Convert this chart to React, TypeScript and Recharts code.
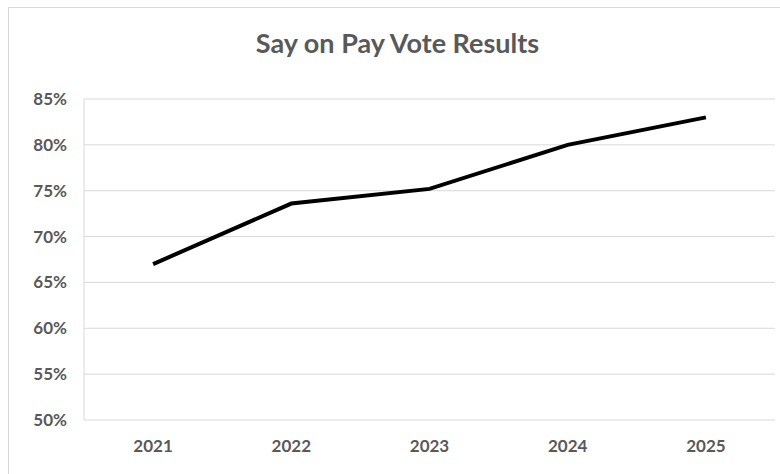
import React from "react";
import { LineChart, Line, XAxis, YAxis, CartesianGrid } from "recharts";

const years = ["2021", "2022", "2023", "2024", "2025"];
const votePct = [0.67, 0.736, 0.752, 0.8, 0.83];
const yTicks = [0.5, 0.55, 0.6, 0.65, 0.7, 0.75, 0.8, 0.85];

const FONT = "Lato, 'Open Sans', sans-serif";
const GRAY = "#595959";

const chartData = years.map((year, i) => ({ year, pct: votePct[i] }));

const pctLabel = (v: number) => `${Math.round(v * 100)}%`;

export default function App() {
  return (
    <div
      style={{
        position: "absolute",
        left: 0,
        top: 0,
        width: 780,
        height: 474,
        overflow: "hidden",
        background: "#fff",
        fontFamily: FONT,
      }}
    >
      {/* chart frame */}
      <div
        style={{
          position: "absolute",
          left: 8,
          top: 7,
          width: 790,
          height: 480,
          border: "1px solid #d9d9d9",
        }}
      />
      <div
        style={{
          position: "absolute",
          left: 0,
          top: 26,
          width: 795,
          textAlign: "center",
          fontSize: 27,
          fontWeight: 700,
          color: GRAY,
        }}
      >
        Say on Pay Vote Results
      </div>
      <div style={{ position: "absolute", left: 0, top: 0 }}>
        <LineChart
          width={780}
          height={474}
          data={chartData}
          margin={{ top: 99, right: 5, bottom: 0, left: 0 }}
        >
          <CartesianGrid vertical={false} stroke="#d9d9d9" strokeWidth={1} />
          <XAxis
            dataKey="year"
            scale="band"
            height={54}
            axisLine={false}
            tickLine={false}
            tickSize={0}
            tickMargin={20}
            tick={{ fill: GRAY, fontSize: 17, fontWeight: 700, fontFamily: FONT }}
          />
          <YAxis
            width={84}
            domain={[0.5, 0.85]}
            ticks={yTicks}
            tickFormatter={pctLabel}
            axisLine={{ stroke: "#d9d9d9" }}
            tickLine={false}
            tickSize={0}
            tickMargin={17}
            tick={{ fill: GRAY, fontSize: 17, fontWeight: 700, fontFamily: FONT }}
          />
          <Line
            type="linear"
            dataKey="pct"
            stroke="#000"
            strokeWidth={4}
            dot={false}
            activeDot={false}
            isAnimationActive={false}
          />
        </LineChart>
      </div>
    </div>
  );
}
